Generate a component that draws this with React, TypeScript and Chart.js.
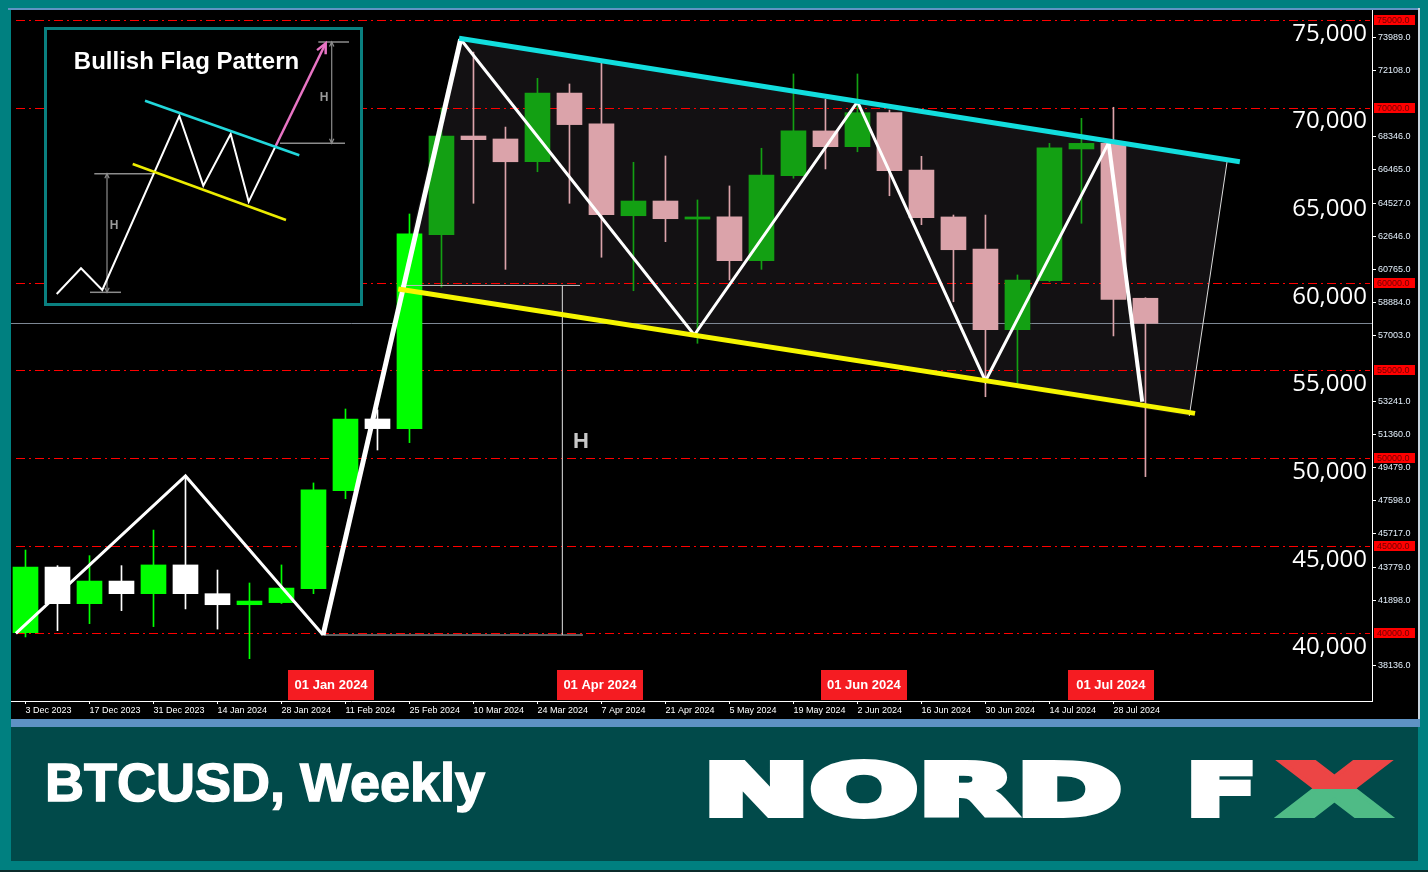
import React, { useEffect, useRef } from "react";
import { Chart, registerables } from "chart.js";

Chart.register(...registerables);

// ---------------- data (weekly BTCUSD candles) ----------------
const openPrices = [40030, 43780, 41690, 42980, 42260, 43900, 42260, 41630, 41750, 42550, 48140, 52230, 51680, 62750, 68380, 68210, 66910, 70830, 69070, 63830, 64670, 63640, 63760, 61260, 66110, 68670, 67770, 69710, 66440, 63760, 61930, 57330, 60120, 67640, 67960, 59120];
const closePrices = [43780, 41690, 42980, 42260, 43900, 42260, 41630, 41840, 42580, 48180, 52230, 51680, 62790, 68380, 68170, 66910, 70830, 69030, 63890, 64670, 63660, 63760, 61260, 66150, 68670, 67770, 69710, 66400, 63720, 61890, 57330, 60160, 67700, 67960, 59060, 57690];
const highPrices = [44750, 43860, 44430, 43860, 45890, 48990, 43610, 42870, 43900, 48580, 52800, 52750, 63930, 69980, 73170, 68890, 71670, 71350, 72530, 66880, 67240, 64730, 65530, 67680, 71920, 70470, 71920, 69860, 67220, 63870, 63870, 60450, 67960, 69390, 70020, 59150];
const lowPrices = [39790, 40150, 40550, 41290, 40380, 41390, 40240, 38550, 41700, 42260, 47680, 50460, 50880, 59760, 64540, 60770, 66340, 64540, 61460, 59550, 62350, 56550, 60160, 60770, 65970, 66500, 67480, 64970, 63320, 58920, 53500, 54270, 60070, 63400, 56970, 48940];
const flagStartIndex = 13;

const tickWeekIndex = [0, 2, 4, 6, 8, 10, 12, 14, 16, 18, 20, 22, 24, 26, 28, 30, 32, 34];
const tickWeekLabels = ["3 Dec 2023", "17 Dec 2023", "31 Dec 2023", "14 Jan 2024", "28 Jan 2024", "11 Feb 2024", "25 Feb 2024", "10 Mar 2024", "24 Mar 2024", "7 Apr 2024", "21 Apr 2024", "5 May 2024", "19 May 2024", "2 Jun 2024", "16 Jun 2024", "30 Jun 2024", "14 Jul 2024", "28 Jul 2024"];

const rightTickValues = [73989, 72108, 68346, 66465, 64527, 62646, 60765, 58884, 57003, 53241, 51360, 49479, 47598, 45717, 43779, 41898, 38136];
const bigTickValues = [40000, 45000, 50000, 55000, 60000, 65000, 70000, 75000];
const levelValues = [75000, 70000, 60000, 55000, 50000, 45000, 40000];

const zigzagX = [-0.3, 5, 9.3, 13.6, 20.9, 26, 30, 33.85, 34.9];
const zigzagY = [40000, 48980, 39900, 73900, 57020, 70340, 54400, 68000, 53220];
const upperLineX = [13.55, 37.95];
const upperLineY = [73960, 66910];
const lowerLineX = [11.65, 36.55];
const lowerLineY = [59650, 52550];
const flagEdgeX = [37.55, 36.37];
const flagEdgeY = [66900, 52400];
const flagAreaX = [11.65, 13.55, 37.55, 36.37];
const flagAreaY = [59650, 73960, 66900, 52400];

const heightTopX = [11.73, 17.33];
const heightTopY = [59850, 59850];
const heightVertX = [16.78, 16.78];
const heightVertY = [59850, 39900];
const heightBaseX = [9.3, 17.42];
const heightBaseY = [39900, 39900];
const heightLabelX = [17.36];
const heightLabelY = [50900];

const separatorX = [9.55, 17.95, 26.2, 33.92];
const separatorLabels = ["01 Jan 2024", "01 Apr 2024", "01 Jun 2024", "01 Jul 2024"];

// inset schematic (its own units)
const insetZigX = [12.7, 37, 58.3, 135.3, 159.3, 186.7, 204.7, 231.3];
const insetZigY = [267, 241.3, 263, 89, 158.7, 107, 174.7, 119.7];
const insetArrowX = [231.3, 281.7];
const insetArrowY = [119.7, 16.3];
const insetUpperX = [101, 255.3];
const insetUpperY = [73.7, 128.3];
const insetLowerX = [88.7, 242];
const insetLowerY = [137, 193];
const insetGuideSegments = [
  [[50.3, 146.7], [109.3, 146.7]],
  [[46, 265.3], [77, 265.3]],
  [[236, 116.3], [301, 116.3]],
  [[274.3, 15], [305, 15]],
];
const insetMeasureSegments = [
  [[63, 146.7], [63, 265.3]],
  [[287.7, 15], [287.7, 116.3]],
];
const insetHLabels = [[70, 199], [280, 70.7]];

// axis ranges
const X_MIN = -0.453;
const X_MAX = 42.08;
const Y_MIN = 36135;
const Y_MAX = 75571;

const SANS = '"Liberation Sans", Arial, sans-serif';

const pts = (xs: number[], ys: number[]) => xs.map((x, i) => ({ x, y: ys[i] }));

function candleColor(i: number) {
  const bull = closePrices[i] >= openPrices[i];
  if (i >= flagStartIndex) return bull ? "#13a013" : "#dba3aa";
  return bull ? "#00ff00" : "#ffffff";
}

const lineDs = (data: any[], color: string, width: number, order: number, extra: any = {}) => ({
  type: "line",
  data,
  borderColor: color,
  borderWidth: width,
  pointRadius: 0,
  fill: false,
  tension: 0,
  order,
  xAxisID: "x",
  yAxisID: "y",
  ...extra,
});

const framePlugin = {
  id: "frame",
  beforeDraw(chart: any) {
    const { ctx, width, height, chartArea } = chart;
    const yAx = chart.scales.y;
    const xAx = chart.scales.x;
    ctx.save();
    ctx.fillStyle = "#008080";
    ctx.fillRect(0, 0, width, height);
    ctx.fillStyle = "#000000";
    ctx.fillRect(chartArea.left, chartArea.top, yAx.right - chartArea.left, xAx.bottom - chartArea.top);
    ctx.fillStyle = "#6194c4";
    ctx.fillRect(8, chartArea.top - 2, yAx.right - 6, 2);
    ctx.fillStyle = "#c9d3dc";
    ctx.fillRect(yAx.right, chartArea.top - 2, 2, xAx.bottom - chartArea.top + 8);
    ctx.fillStyle = "#5e92c4";
    ctx.fillRect(chartArea.left, xAx.bottom, yAx.right + 2 - chartArea.left, 8);
    ctx.fillStyle = "#014a4a";
    ctx.fillRect(chartArea.left, xAx.bottom + 8, yAx.right - chartArea.left, 134);
    ctx.fillStyle = "#0b2b2b";
    ctx.fillRect(0, height - 2, width, 2);
    ctx.restore();
  },
  beforeDatasetsDraw(chart: any) {
    const { ctx, chartArea } = chart;
    const sx = chart.scales.x;
    const sy = chart.scales.y;
    ctx.save();
    ctx.beginPath();
    ctx.rect(chartArea.left, chartArea.top, chartArea.right - chartArea.left, chartArea.bottom - chartArea.top);
    ctx.clip();
    // flag area
    ctx.beginPath();
    flagAreaX.forEach((x, i) => {
      const X = sx.getPixelForValue(x);
      const Y = sy.getPixelForValue(flagAreaY[i]);
      if (i === 0) ctx.moveTo(X, Y);
      else ctx.lineTo(X, Y);
    });
    ctx.closePath();
    ctx.fillStyle = "#131113";
    ctx.fill();
    // horizontal levels
    ctx.strokeStyle = "#ff0000";
    ctx.lineWidth = 1;
    ctx.setLineDash([9, 4, 2, 4]);
    levelValues.forEach((v) => {
      const Y = Math.round(sy.getPixelForValue(v)) + 0.5;
      ctx.beginPath();
      ctx.moveTo(chartArea.left + 5, Y);
      ctx.lineTo(chartArea.right - 2, Y);
      ctx.stroke();
    });
    ctx.setLineDash([]);
    // bid line
    const bid = closePrices[closePrices.length - 1];
    const BY = Math.round(sy.getPixelForValue(bid)) + 0.5;
    ctx.strokeStyle = "#7d8794";
    ctx.beginPath();
    ctx.moveTo(chartArea.left, BY);
    ctx.lineTo(chartArea.right, BY);
    ctx.stroke();
    ctx.restore();
  },
  afterDatasetsDraw(chart: any) {
    const { ctx } = chart;
    const sx = chart.scales.x;
    const sy = chart.scales.y;
    ctx.save();
    ctx.fillStyle = "#c8c8c8";
    ctx.font = `bold 22px ${SANS}`;
    ctx.textAlign = "center";
    ctx.textBaseline = "middle";
    heightLabelX.forEach((x, i) => {
      ctx.fillText("H", sx.getPixelForValue(x), sy.getPixelForValue(heightLabelY[i]));
    });
    ctx.restore();
  },
  afterDraw(chart: any) {
    const { ctx, chartArea } = chart;
    const sx = chart.scales.x;
    const sy = chart.scales.y;
    ctx.save();
    // price tags on right axis
    ctx.font = `9px ${SANS}`;
    ctx.textBaseline = "middle";
    ctx.textAlign = "left";
    levelValues.forEach((v) => {
      const Y = Math.round(sy.getPixelForValue(v));
      ctx.fillStyle = "#ff0000";
      ctx.fillRect(chartArea.right + 2, Y - 5, 41, 10);
      ctx.fillStyle = "#6e0000";
      ctx.fillText(v.toFixed(1), chartArea.right + 5, Y + 0.5);
    });
    // period separator labels
    ctx.font = `bold 13px ${SANS}`;
    ctx.textAlign = "center";
    separatorX.forEach((x, i) => {
      const X = sx.getPixelForValue(x);
      ctx.fillStyle = "#f51c22";
      ctx.fillRect(Math.round(X - 43), chartArea.bottom - 31, 86, 30);
      ctx.fillStyle = "#ffffff";
      ctx.fillText(separatorLabels[i], X, chartArea.bottom - 15.5);
    });
    // title
    ctx.fillStyle = "#ffffff";
    ctx.strokeStyle = "#ffffff";
    ctx.lineWidth = 1.4;
    ctx.textAlign = "left";
    ctx.textBaseline = "alphabetic";
    ctx.font = `bold 54px ${SANS}`;
    ctx.strokeText("BTCUSD, Weekly", 45, 801);
    ctx.fillText("BTCUSD, Weekly", 45, 801);
    // logo
    const drawWide = (txt: string, x: number, w: number, color: string) => {
      ctx.save();
      ctx.font = `bold 72px "DejaVu Sans", sans-serif`;
      const m = ctx.measureText(txt).width;
      ctx.translate(x + 3, 815);
      ctx.scale((w - 6) / m, 1);
      ctx.fillStyle = color;
      ctx.strokeStyle = color;
      ctx.lineJoin = "miter";
      ctx.lineWidth = 6;
      ctx.strokeText(txt, 0, 0);
      ctx.fillText(txt, 0, 0);
      ctx.restore();
    };
    drawWide("NORD", 700, 425, "#ffffff");
    drawWide("F", 1183, 77, "#ffffff");
    ctx.save();
    ctx.beginPath();
    ctx.rect(1270, 740, 140, 49);
    ctx.clip();
    drawWide("X", 1279, 111, "#ec4545");
    ctx.restore();
    ctx.save();
    ctx.beginPath();
    ctx.rect(1270, 789, 140, 40);
    ctx.clip();
    drawWide("X", 1279, 111, "#4fbb86");
    ctx.restore();
    ctx.restore();
  },
};

function mainConfig(): any {
  const idx = openPrices.map((_, i) => i);
  const colors = idx.map(candleColor);
  const bodies = idx.map((i) => ({ x: i, y: [openPrices[i], closePrices[i]] }));
  const wicks = idx.map((i) => ({ x: i, y: [lowPrices[i], highPrices[i]] }));
  return {
    type: "bar",
    data: {
      datasets: [
        lineDs(pts(upperLineX, upperLineY), "#12dede", 5, 0),
        lineDs(pts(lowerLineX, lowerLineY), "#f6f600", 5, 0),
        lineDs(pts(zigzagX, zigzagY), "#ffffff", 3, 1, {
          segment: { borderWidth: (c: any) => (c.p0DataIndex === 2 ? 5 : c.p0DataIndex === 7 ? 4 : 3) },
        }),
        lineDs(pts(flagEdgeX, flagEdgeY), "#dcdcdc", 1, 2),
        lineDs(pts(heightTopX, heightTopY), "#bdbdbd", 1, 3),
        lineDs(pts(heightVertX, heightVertY), "#bdbdbd", 1, 3),
        lineDs(pts(heightBaseX, heightBaseY), "#bdbdbd", 1, 3),
        {
          type: "bar",
          data: bodies,
          backgroundColor: colors,
          borderWidth: 0,
          barThickness: 25,
          minBarLength: 2,
          grouped: false,
          order: 4,
          xAxisID: "x",
          yAxisID: "y",
        },
        {
          type: "bar",
          data: wicks,
          backgroundColor: colors,
          borderWidth: 0,
          barThickness: 1,
          grouped: false,
          order: 5,
          xAxisID: "x",
          yAxisID: "y",
        },
      ],
    },
    options: {
      responsive: false,
      animation: false,
      devicePixelRatio: 1,
      events: [],
      layout: { padding: { left: 11, top: 10, right: 10, bottom: 153 } },
      plugins: { legend: { display: false }, tooltip: { enabled: false } },
      scales: {
        x: {
          type: "linear",
          position: "bottom",
          min: X_MIN,
          max: X_MAX,
          offset: false,
          bounds: "data",
          afterBuildTicks: (s: any) => {
            s.ticks = tickWeekIndex.map((v) => ({ value: v }));
          },
          afterFit: (s: any) => {
            s.height = 18;
            s.paddingLeft = 0;
            s.paddingRight = 0;
          },
          ticks: {
            autoSkip: false,
            maxRotation: 0,
            minRotation: 0,
            align: "start",
            padding: 1,
            color: "#ffffff",
            font: { family: SANS, size: 9 },
            callback: (v: any) => {
              const k = tickWeekIndex.indexOf(Number(v));
              return k >= 0 ? tickWeekLabels[k] : "";
            },
          },
          grid: { display: true, drawOnChartArea: false, offset: false, tickLength: 3, color: "#ffffff" },
          border: { display: true, color: "#ffffff", width: 1 },
        },
        y: {
          type: "linear",
          position: "right",
          weight: 1,
          min: Y_MIN,
          max: Y_MAX,
          bounds: "data",
          afterBuildTicks: (s: any) => {
            s.ticks = rightTickValues.map((v) => ({ value: v }));
          },
          afterFit: (s: any) => {
            s.width = 46;
            s.paddingTop = 0;
            s.paddingBottom = 0;
          },
          ticks: {
            padding: 2,
            color: "#e4f0fc",
            font: { family: SANS, size: 9 },
            callback: (v: any) => Number(v).toFixed(1),
          },
          grid: { display: true, drawOnChartArea: false, tickLength: 4, color: "#ffffff" },
          border: { display: true, color: "#ffffff", width: 1 },
        },
        yBig: {
          type: "linear",
          axis: "y",
          position: "right",
          weight: 0,
          min: Y_MIN,
          max: Y_MAX,
          bounds: "data",
          afterBuildTicks: (s: any) => {
            s.ticks = bigTickValues.map((v) => ({ value: v }));
          },
          afterFit: (s: any) => {
            s.width = 0;
            s.paddingTop = 0;
            s.paddingBottom = 0;
          },
          ticks: {
            mirror: true,
            padding: -5,
            labelOffset: 14,
            color: "#ffffff",
            font: { family: '"Open Sans", sans-serif', size: 24 },
            callback: (v: any) => Number(v).toLocaleString("en-US"),
          },
          grid: { display: false },
          border: { display: false },
        },
      },
    },
    plugins: [framePlugin],
  };
}

const insetPlugin = {
  id: "insetFrame",
  beforeDraw(chart: any) {
    const { ctx, width, height } = chart;
    ctx.save();
    ctx.fillStyle = "#000000";
    ctx.fillRect(0, 0, width, height);
    ctx.strokeStyle = "#0a8080";
    ctx.lineWidth = 3;
    ctx.strokeRect(1.5, 1.5, width - 3, height - 3);
    ctx.restore();
  },
  afterDatasetsDraw(chart: any) {
    const { ctx } = chart;
    const sx = chart.scales.x;
    const sy = chart.scales.y;
    const P = (x: number, y: number) => [sx.getPixelForValue(x), sy.getPixelForValue(y)];
    const arrowHead = (from: number[], to: number[], len: number, color: string, w: number) => {
      const a = Math.atan2(to[1] - from[1], to[0] - from[0]);
      ctx.strokeStyle = color;
      ctx.lineWidth = w;
      ctx.beginPath();
      ctx.moveTo(to[0] - len * Math.cos(a - 0.45), to[1] - len * Math.sin(a - 0.45));
      ctx.lineTo(to[0], to[1]);
      ctx.lineTo(to[0] - len * Math.cos(a + 0.45), to[1] - len * Math.sin(a + 0.45));
      ctx.stroke();
    };
    ctx.save();
    const n = insetArrowX.length;
    arrowHead(P(insetArrowX[n - 2], insetArrowY[n - 2]), P(insetArrowX[n - 1], insetArrowY[n - 1]), 11, "#e874c4", 2.5);
    insetMeasureSegments.forEach((seg) => {
      const a = P(seg[0][0], seg[0][1]);
      const b = P(seg[1][0], seg[1][1]);
      arrowHead(a, b, 5, "#8c8c8c", 1.2);
      arrowHead(b, a, 5, "#8c8c8c", 1.2);
    });
    ctx.fillStyle = "#9a9a9a";
    ctx.font = `bold 12px ${SANS}`;
    ctx.textAlign = "center";
    ctx.textBaseline = "middle";
    insetHLabels.forEach((h) => {
      const p = P(h[0], h[1]);
      ctx.fillText("H", p[0], p[1]);
    });
    ctx.fillStyle = "#ffffff";
    ctx.font = `bold 24px ${SANS}`;
    ctx.fillText("Bullish Flag Pattern", 142.5, 35);
    ctx.restore();
  },
};

function insetConfig(): any {
  const ds = (data: any[], color: string, width: number) => ({
    data,
    borderColor: color,
    borderWidth: width,
    pointRadius: 0,
    fill: false,
    tension: 0,
  });
  return {
    type: "line",
    data: {
      datasets: [
        ds(pts(insetUpperX, insetUpperY), "#22d8dc", 2.5),
        ds(pts(insetLowerX, insetLowerY), "#ecec00", 2.5),
        ds(pts(insetArrowX, insetArrowY), "#e874c4", 2.5),
        ds(pts(insetZigX, insetZigY), "#ffffff", 2),
        ...insetGuideSegments.map((s) => ds(s.map((p) => ({ x: p[0], y: p[1] })), "#8c8c8c", 1.5)),
        ...insetMeasureSegments.map((s) => ds(s.map((p) => ({ x: p[0], y: p[1] })), "#8c8c8c", 1.2)),
      ],
    },
    options: {
      responsive: false,
      animation: false,
      devicePixelRatio: 1,
      events: [],
      layout: { padding: 0 },
      plugins: { legend: { display: false }, tooltip: { enabled: false } },
      scales: {
        x: { type: "linear", min: 0, max: 319, display: false },
        y: { type: "linear", min: 0, max: 279, reverse: true, display: false },
      },
    },
    plugins: [insetPlugin],
  };
}

export default function App() {
  const mainRef = useRef<HTMLCanvasElement>(null);
  const insetRef = useRef<HTMLCanvasElement>(null);
  useEffect(() => {
    const main = new Chart(mainRef.current as HTMLCanvasElement, mainConfig());
    const inset = new Chart(insetRef.current as HTMLCanvasElement, insetConfig());
    return () => {
      main.destroy();
      inset.destroy();
    };
  }, []);
  return (
    <div style={{ position: "fixed", left: 0, top: 0, width: 1428, height: 872, overflow: "hidden", background: "#008080" }}>
      <canvas ref={mainRef} width={1428} height={872} style={{ position: "absolute", left: 0, top: 0, width: 1428, height: 872 }} />
      <canvas ref={insetRef} width={319} height={279} style={{ position: "absolute", left: 44, top: 27, width: 319, height: 279 }} />
    </div>
  );
}
